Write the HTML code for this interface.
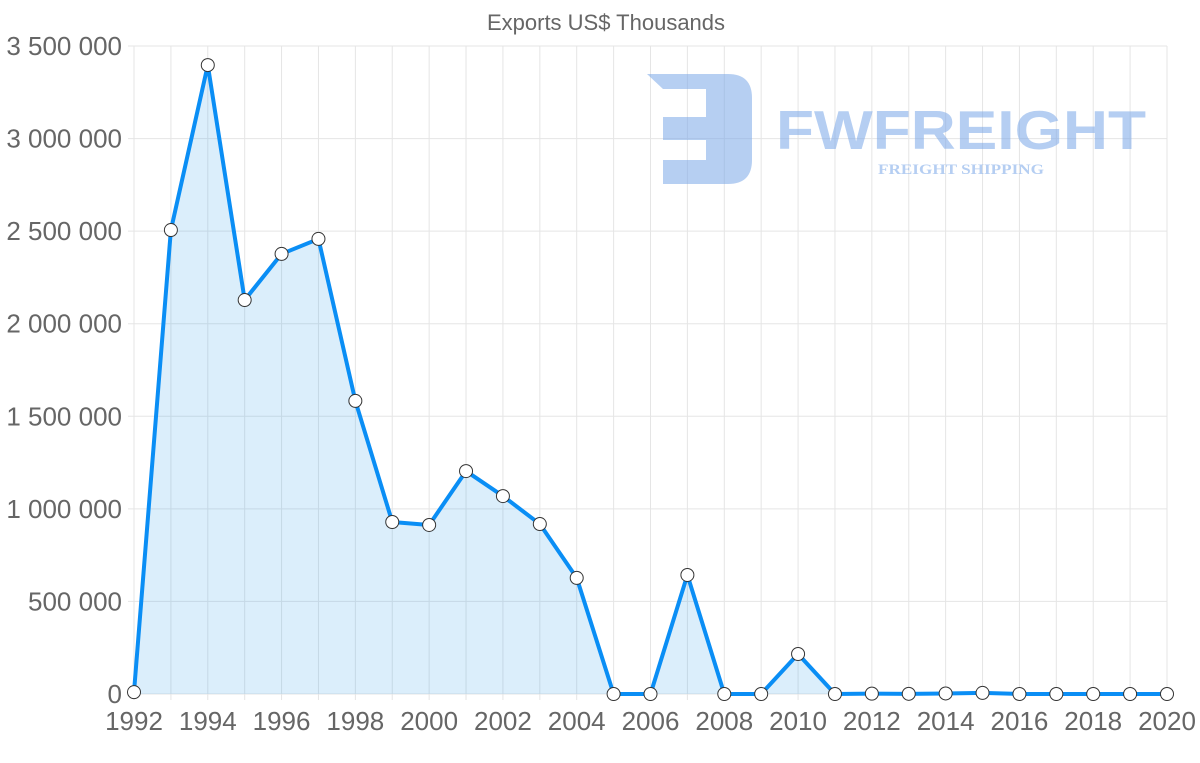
<!DOCTYPE html>
<html><head><meta charset="utf-8"><style>
body{margin:0;background:#fff;}
svg{display:block;font-family:"Liberation Sans",sans-serif;}
</style></head><body>
<svg id="chart" width="1200" height="763">
<text x="606" y="30" text-anchor="middle" font-size="22" fill="#666">Exports US$ Thousands</text>
<g id="grid"></g>
<g opacity="0.55">
<path d="M647,74 H728 Q752,74 752,98 V160 Q752,184 728,184 H663 V160 H706 V140 H663 V117 H706 V89 H663 Z" fill="#7aa7e8"/>
<text x="776" y="149" font-size="55" font-weight="bold" fill="#7aa7e8" textLength="370" lengthAdjust="spacingAndGlyphs">FWFREIGHT</text>
<text x="878" y="174" font-size="15" font-weight="bold" font-family="Liberation Serif,serif" fill="#7aa7e8" textLength="166" lengthAdjust="spacingAndGlyphs">FREIGHT SHIPPING</text>
</g>
<g id="series"></g>
<g id="axes"></g>
</svg>
<script>
const years=[1992,1993,1994,1995,1996,1997,1998,1999,2000,2001,2002,2003,2004,2005,2006,2007,2008,2009,2010,2011,2012,2013,2014,2015,2016,2017,2018,2019,2020];
const exportsValues=[10000,2506000,3397000,2128000,2377000,2458000,1583000,929000,913000,1204000,1069000,918000,627000,0,0,643000,0,0,216000,0,2000,1000,3000,6000,0,0,0,0,0];
const yTicks=[0,500000,1000000,1500000,2000000,2500000,3000000,3500000];
const yTickLabels=["0","500 000","1 000 000","1 500 000","2 000 000","2 500 000","3 000 000","3 500 000"];
const xTickLabels=["1992","1994","1996","1998","2000","2002","2004","2006","2008","2010","2012","2014","2016","2018","2020"];
const NS="http://www.w3.org/2000/svg";
const X0=134,X1=1167,Y0=694,Y1=46,YMAX=3500000;
const xs=y=>X0+(y-years[0])/(years[years.length-1]-years[0])*(X1-X0);
const ys=v=>Y0-v/YMAX*(Y0-Y1);
function mk(tag,attrs,parent){const e=document.createElementNS(NS,tag);for(const k in attrs)e.setAttribute(k,attrs[k]);parent.appendChild(e);return e;}
const grid=document.getElementById('grid'),axes=document.getElementById('axes'),series=document.getElementById('series');
years.forEach(y=>{const l=mk('line',{x1:xs(y),x2:xs(y),y1:Y1,y2:Y0+6,stroke:'#e5e5e5'},grid);

});
yTicks.forEach((v,i)=>{const l=mk('line',{x1:X0-6,x2:X1,y1:ys(v),y2:ys(v),stroke:'#e5e5e5'},grid);


const t=mk('text',{x:122,y:ys(v)+9,'text-anchor':'end','font-size':26,fill:'#666'},axes);t.textContent=yTickLabels[i];

});
xTickLabels.forEach(s=>{const t=mk('text',{x:xs(+s),y:730,'text-anchor':'middle','font-size':26,fill:'#666'},axes);t.textContent=s;

});
let d='';years.forEach((y,i)=>{d+=(i?'L':'M')+xs(y)+','+ys(exportsValues[i]);});
const area=mk('path',{d:d+'L'+xs(years[years.length-1])+','+Y0+'L'+X0+','+Y0+'Z',fill:'rgba(54,162,235,0.18)'},series);


const line=mk('path',{d:d,fill:'none',stroke:'#0a8ef5','stroke-width':4,'stroke-linejoin':'round'},series);


years.forEach((y,i)=>{const c=mk('circle',{cx:xs(y),cy:ys(exportsValues[i]),r:6.5,fill:'#fff',stroke:'#333','stroke-width':1},series);

});
</script>
</body></html>
